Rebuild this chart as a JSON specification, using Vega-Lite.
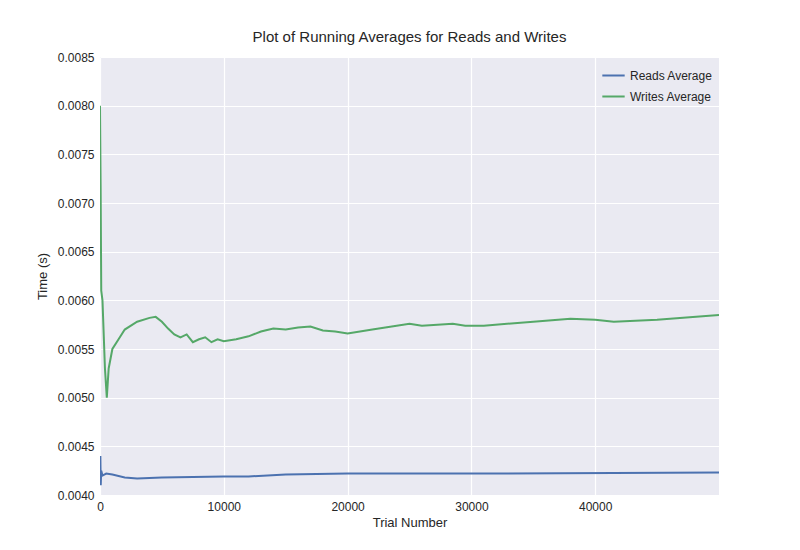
{
"$schema":"https://vega.github.io/schema/vega-lite/v6.json",
"width":619,"height":438,
"autosize":{"type":"none"},
"padding":{"left":100,"top":57,"right":81,"bottom":55},
"background":"white",
"title":{"text":"Plot of Running Averages for Reads and Writes","font":"Liberation Sans","fontSize":15,"fontWeight":"normal","color":"#262626","offset":6},
"config":{"view":{"fill":"#EAEAF2","stroke":null},
"axis":{"domain":false,"ticks":false,"gridColor":"white","gridWidth":1.2,"labelFont":"Liberation Sans","labelFontSize":12,"labelColor":"#262626","titleFont":"Liberation Sans","titleFontSize":13,"titleFontWeight":"normal","titleColor":"#262626","labelPadding":6,"labelFlush":false}},
"data":{"values":[
{"x":0,"y":0.0080,"s":"Writes Average"},{"x":50,"y":0.0072,"s":"Writes Average"},{"x":100,"y":0.0061,"s":"Writes Average"},{"x":200,"y":0.0060,"s":"Writes Average"},{"x":400,"y":0.0053,"s":"Writes Average"},{"x":550,"y":0.0050,"s":"Writes Average"},{"x":700,"y":0.0053,"s":"Writes Average"},{"x":1000,"y":0.0055,"s":"Writes Average"},{"x":1500,"y":0.0056,"s":"Writes Average"},{"x":2000,"y":0.0057,"s":"Writes Average"},{"x":3000,"y":0.00578,"s":"Writes Average"},{"x":4000,"y":0.00582,"s":"Writes Average"},{"x":4500,"y":0.00583,"s":"Writes Average"},{"x":5000,"y":0.00578,"s":"Writes Average"},{"x":5500,"y":0.00571,"s":"Writes Average"},{"x":6000,"y":0.00565,"s":"Writes Average"},{"x":6500,"y":0.00562,"s":"Writes Average"},{"x":7000,"y":0.00565,"s":"Writes Average"},{"x":7500,"y":0.00557,"s":"Writes Average"},{"x":8000,"y":0.0056,"s":"Writes Average"},{"x":8500,"y":0.00562,"s":"Writes Average"},{"x":9000,"y":0.00557,"s":"Writes Average"},{"x":9500,"y":0.0056,"s":"Writes Average"},{"x":10000,"y":0.00558,"s":"Writes Average"},{"x":11000,"y":0.0056,"s":"Writes Average"},{"x":12000,"y":0.00563,"s":"Writes Average"},{"x":13000,"y":0.00568,"s":"Writes Average"},{"x":14000,"y":0.00571,"s":"Writes Average"},{"x":15000,"y":0.0057,"s":"Writes Average"},{"x":16000,"y":0.00572,"s":"Writes Average"},{"x":17000,"y":0.00573,"s":"Writes Average"},{"x":18000,"y":0.00569,"s":"Writes Average"},{"x":19000,"y":0.00568,"s":"Writes Average"},{"x":20000,"y":0.00566,"s":"Writes Average"},{"x":22000,"y":0.0057,"s":"Writes Average"},{"x":25000,"y":0.00576,"s":"Writes Average"},{"x":26000,"y":0.00574,"s":"Writes Average"},{"x":28500,"y":0.00576,"s":"Writes Average"},{"x":29500,"y":0.00574,"s":"Writes Average"},{"x":31000,"y":0.00574,"s":"Writes Average"},{"x":35000,"y":0.00578,"s":"Writes Average"},{"x":38000,"y":0.00581,"s":"Writes Average"},{"x":40000,"y":0.00580,"s":"Writes Average"},{"x":41500,"y":0.00578,"s":"Writes Average"},{"x":45000,"y":0.0058,"s":"Writes Average"},{"x":50000,"y":0.00585,"s":"Writes Average"},
{"x":0,"y":0.0041,"s":"Reads Average"},{"x":30,"y":0.0044,"s":"Reads Average"},{"x":60,"y":0.0041,"s":"Reads Average"},{"x":100,"y":0.00425,"s":"Reads Average"},{"x":200,"y":0.0042,"s":"Reads Average"},{"x":500,"y":0.00422,"s":"Reads Average"},{"x":1000,"y":0.00421,"s":"Reads Average"},{"x":2000,"y":0.00418,"s":"Reads Average"},{"x":3000,"y":0.00417,"s":"Reads Average"},{"x":5000,"y":0.00418,"s":"Reads Average"},{"x":10000,"y":0.00419,"s":"Reads Average"},{"x":12000,"y":0.00419,"s":"Reads Average"},{"x":15000,"y":0.00421,"s":"Reads Average"},{"x":20000,"y":0.00422,"s":"Reads Average"},{"x":30000,"y":0.00422,"s":"Reads Average"},{"x":50000,"y":0.00423,"s":"Reads Average"}
]},
"mark":{"type":"line","strokeWidth":2,"clip":true},
"encoding":{
"x":{"field":"x","type":"quantitative","title":"Trial Number","scale":{"domain":[0,50000],"nice":false},"axis":{"values":[0,10000,20000,30000,40000],"format":"d","titlePadding":4}},
"y":{"field":"y","type":"quantitative","title":"Time (s)","scale":{"domain":[0.004,0.0085],"nice":false},"axis":{"values":[0.004,0.0045,0.005,0.0055,0.006,0.0065,0.007,0.0075,0.008,0.0085],"format":".4f","titlePadding":8}},
"color":{"field":"s","type":"nominal","scale":{"domain":["Reads Average","Writes Average"],"range":["#4C72B0","#55A868"]},
"legend":{"title":null,"orient":"top-right","labelFont":"Liberation Sans","labelFontSize":12,"labelColor":"#262626","symbolType":"stroke","symbolSize":500,"symbolStrokeWidth":2,"offset":6}},
"order":{"field":"x","type":"quantitative"}}
}
